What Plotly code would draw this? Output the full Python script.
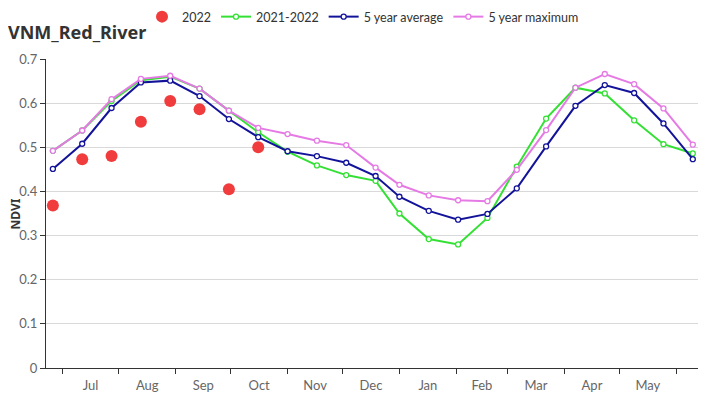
import plotly.graph_objects as go

dates = ["2021-06-26", "2021-07-12", "2021-07-28", "2021-08-13", "2021-08-29",
         "2021-09-14", "2021-09-30", "2021-10-16", "2021-11-01", "2021-11-17",
         "2021-12-03", "2021-12-19", "2022-01-01", "2022-01-17", "2022-02-02",
         "2022-02-18", "2022-03-06", "2022-03-22", "2022-04-07", "2022-04-23",
         "2022-05-09", "2022-05-25", "2022-06-10"]

ndvi_2022 = [0.368, 0.473, 0.480, 0.558, 0.605, 0.586, 0.405, 0.500]

ndvi_2021_2022 = [0.492, 0.538, 0.605, 0.652, 0.660, 0.633, 0.583, 0.534, 0.490,
                  0.459, 0.437, 0.424, 0.350, 0.292, 0.280, 0.340, 0.456, 0.565,
                  0.635, 0.622, 0.561, 0.507, 0.486]

ndvi_avg5 = [0.451, 0.508, 0.589, 0.647, 0.651, 0.616, 0.564, 0.523, 0.491,
             0.480, 0.465, 0.435, 0.388, 0.356, 0.336, 0.349, 0.407, 0.502,
             0.594, 0.641, 0.623, 0.554, 0.473]

ndvi_max5 = [0.492, 0.538, 0.609, 0.655, 0.662, 0.633, 0.583, 0.544, 0.530,
             0.515, 0.505, 0.454, 0.415, 0.391, 0.380, 0.378, 0.449, 0.539,
             0.635, 0.666, 0.643, 0.588, 0.506]

y_ticks = [0, 0.1, 0.2, 0.3, 0.4, 0.5, 0.6, 0.7]

FONT = "Lato"
TFONT = "Noto Sans"
# page body has an 8px margin, so the figure is sized/offset to compensate
OFF = 8
W, H = 726 - OFF, 400 - OFF
ML, MR, MT, MB = 46 - OFF, 28, 59 - OFF, 32
PW, PH = W - ML - MR, H - MT - MB

fig = go.Figure()
fig.add_trace(go.Scatter(
    x=dates[:len(ndvi_2022)], y=ndvi_2022, name="2022", mode="markers",
    marker=dict(color="#f03c3c", size=12, line=dict(width=0))))
fig.add_trace(go.Scatter(
    x=dates, y=ndvi_2021_2022, name="2021-2022", mode="lines+markers",
    line=dict(color="#33e033", width=2),
    marker=dict(symbol="circle", size=5, color="white", line=dict(color="#33e033", width=1.3))))
fig.add_trace(go.Scatter(
    x=dates, y=ndvi_avg5, name="5 year average", mode="lines+markers",
    line=dict(color="#13139a", width=2),
    marker=dict(symbol="circle", size=5, color="white", line=dict(color="#13139a", width=1.3))))
fig.add_trace(go.Scatter(
    x=dates, y=ndvi_max5, name="5 year maximum", mode="lines+markers",
    line=dict(color="#e57ae5", width=2),
    marker=dict(symbol="circle", size=5, color="white", line=dict(color="#e57ae5", width=1.3))))

fig.update_layout(
    width=W, height=H,
    margin=dict(l=ML, r=MR, t=MT, b=MB, autoexpand=False),
    paper_bgcolor="white", plot_bgcolor="white",
    font=dict(family=FONT, size=12, color="#666"),
    title=dict(text="<b>VNM_Red_River</b>", x=0.0, xref="container", xanchor="left",
               y=1 - (33 - OFF) / H, yref="container", yanchor="middle",
               font=dict(family=TFONT, size=18, color="#333")),
    legend=dict(orientation="h", x=(363 - OFF) / W, xref="container", xanchor="center",
                y=1 + (59 - 17) / PH, yanchor="middle", yref="paper",
                font=dict(family=FONT, size=12.5, color="#333"),
                itemwidth=30, tracegroupgap=0, bgcolor="rgba(0,0,0,0)"),
    showlegend=True,
)

fig.add_annotation(text="<b>NDVI</b>", x=-(46 - 15) / PW, xref="paper",
                   y=0.5, yref="paper", showarrow=False, textangle=-90,
                   xanchor="center", yanchor="middle",
                   font=dict(family=TFONT, size=12, color="#333"))

fig.update_xaxes(
    type="date", range=["2021-06-22 06:00", "2022-06-12 20:00"],
    dtick="M1", tick0="2021-07-01", tickformat="%b", ticklabelmode="period",
    ticks="outside", ticklen=5, tickcolor="#333",
    showline=True, linecolor="#333", linewidth=1,
    showgrid=False, zeroline=False, automargin=False,
    tickfont=dict(family=FONT, size=13, color="#666"))
fig.update_yaxes(
    range=[0, 0.7], tickvals=y_ticks, ticktext=["0", "0.1", "0.2", "0.3", "0.4", "0.5", "0.6", "0.7"],
    ticks="outside", ticklen=5, tickcolor="#333",
    showline=True, linecolor="#333", linewidth=1, automargin=False,
    showgrid=True, gridcolor="#d9d9d9", gridwidth=1, zeroline=False,
    tickfont=dict(family=FONT, size=13, color="#666"))

fig.write_html("out.html")
